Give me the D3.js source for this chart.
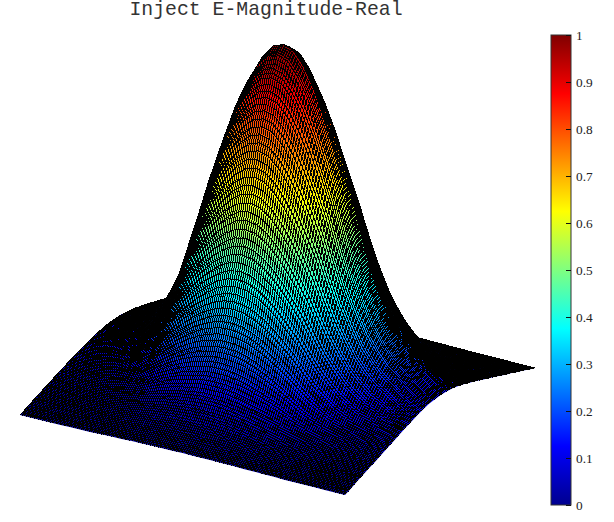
<!DOCTYPE html>
<html><head><meta charset="utf-8">
<script src="https://cdn.jsdelivr.net/npm/d3@7/dist/d3.min.js"></script>
<style>html,body{margin:0;padding:0;background:#fff}svg{display:block}</style>
</head><body><svg id="c" width="614" height="522"></svg>
<script>
const titleText = "Inject E-Magnitude-Real";
const colorbarTicks = [0,0.1,0.2,0.3,0.4,0.5,0.6,0.7,0.8,0.9,1];
const jetStops = [0,0.125,0.375,0.625,0.875,1];
const jetColors = ["#00008f","#0000ff","#00ffff","#ffff00","#ff0000","#800000"];
// Estimated heights, hand-fitted to the silhouette, edge profiles and colour bands; mirrored across the short axis.
// Row = steps from the peak along the long side, column = steps from the peak along the short side.
const heightRowsPeak = [
[1.000,.982,.927,.843,.739,.625,.510,.402,.307,.228,.165,.115,.080,.053,.033,.017,.006],
[.989,.971,.917,.834,.731,.618,.504,.398,.304,.226,.164,.115,.079,.052,.032,.017,.005],
[.952,.934,.883,.803,.704,.596,.486,.384,.294,.219,.159,.111,.077,.051,.032,.017,.005],
[.895,.879,.830,.756,.663,.561,.459,.363,.279,.208,.151,.106,.074,.049,.031,.016,.005],
[.822,.807,.763,.695,.610,.517,.424,.336,.258,.194,.141,.100,.070,.047,.029,.015,.004]
];
const heightRowsLeft = [
[.730,.717,.678,.618,.543,.462,.379,.302,.233,.176,.129,.092,.065,.044,.027,.014,.004],
[.625,.614,.581,.531,.467,.398,.328,.263,.204,.155,.115,.083,.059,.040,.025,.013,.003],
[.505,.496,.470,.431,.380,.326,.270,.218,.171,.132,.099,.072,.053,.036,.023,.012,.003],
[.375,.369,.351,.322,.286,.247,.207,.170,.136,.107,.082,.061,.046,.032,.021,.010,.002],
[.295,.291,.277,.255,.228,.199,.168,.140,.114,.091,.071,.054,.041,.029,.019,.009,.001],
[.225,.222,.212,.197,.178,.157,.135,.114,.094,.077,.062,.048,.037,.027,.018,.009,.001],
[.175,.173,.166,.155,.141,.126,.110,.095,.081,.068,.055,.044,.035,.025,.017,.008,.001],
[.145,.144,.139,.130,.120,.108,.096,.084,.072,.062,.051,.041,.033,.024,.016,.008,0],
[.125,.124,.120,.114,.105,.096,.086,.077,.067,.058,.049,.039,.032,.024,.016,.008,0],
[.110,.109,.106,.101,.094,.087,.079,.071,.063,.055,.047,.038,.031,.023,.016,.007,0],
[.100,.100,.097,.093,.087,.081,.074,.067,.060,.053,.045,.037,.030,.023,.015,.007,0],
[.095,.095,.092,.089,.083,.078,.072,.065,.059,.052,.045,.037,.030,.023,.015,.007,0]
];
const heightRowsRight = [
[.737,.724,.684,.624,.548,.466,.382,.304,.235,.177,.130,.093,.065,.044,.028,.014,.004],
[.646,.635,.600,.548,.482,.411,.338,.270,.210,.159,.118,.085,.060,.041,.026,.013,.003],
[.535,.526,.498,.456,.402,.344,.285,.229,.180,.138,.103,.075,.054,.037,.024,.012,.003],
[.435,.428,.406,.372,.330,.283,.236,.192,.152,.118,.090,.066,.049,.034,.022,.011,.002],
[.355,.349,.332,.306,.272,.235,.198,.162,.130,.103,.079,.059,.044,.031,.020,.010,.002],
[.285,.281,.268,.247,.221,.193,.164,.136,.111,.089,.070,.053,.041,.029,.019,.009,.001],
[.235,.232,.222,.205,.185,.163,.139,.118,.097,.079,.063,.049,.038,.027,.018,.009,.001],
[.195,.193,.185,.172,.156,.138,.120,.103,.086,.071,.058,.045,.036,.026,.017,.008,.001],
[.171,.169,.163,.152,.139,.124,.108,.094,.079,.067,.055,.043,.034,.025,.017,.008,.001],
[.142,.141,.136,.128,.118,.106,.094,.083,.071,.061,.051,.041,.033,.024,.016,.008,0],
[.120,.119,.115,.110,.102,.093,.084,.075,.065,.057,.048,.039,.031,.023,.016,.007,0],
[.105,.104,.102,.097,.091,.084,.077,.069,.061,.054,.046,.038,.031,.023,.016,.007,0]
];

const N = heightRowsPeak[0].length - 1;
const P = heightRowsPeak.length;
const heightAt = (i,j) => { const k=Math.abs(i-N), m=Math.abs(j-N);
  return k<P ? heightRowsPeak[k][m] : (i<N ? heightRowsLeft : heightRowsRight)[k-P][m]; };
const cellsPerSide = 2*N;

// Oblique projection
const sToX = d3.scaleLinear([0,cellsPerSide],[0,325]);
const sToY = d3.scaleLinear([0,cellsPerSide],[0,80]);
const tToX = d3.scaleLinear([0,cellsPerSide],[0,190]);
const tToY = d3.scaleLinear([0,cellsPerSide],[0,-127]);
const zToX = d3.scaleLinear([0,1],[0,6]);
const zToY = d3.scaleLinear([0,1],[0,-347]);
const project = (i,j) => { const z = heightAt(i,j);
  return [20+sToX(i)+tToX(j)+zToX(z), 415+sToY(i)+tToY(j)+zToY(z)]; };
const jet = d3.scaleLinear(jetStops,jetColors).interpolate(d3.interpolateRgb).clamp(true);

const svg = d3.select("#c");
const defs = svg.append("defs");

const cells = [];
for (let i=0;i<cellsPerSide;i++) for (let j=cellsPerSide-1;j>=0;j--) cells.push({i,j});
const hatchPerCell = 5;
const f2 = v => v.toFixed(2);
cells.forEach((c,n)=>{
  const corners = [[c.i,c.j],[c.i+1,c.j],[c.i+1,c.j+1],[c.i,c.j+1]].map(([a,b])=>({p:project(a,b),z:heightAt(a,b)}));
  c.corners = corners;
  const sorted = corners.slice().sort((a,b)=>a.z-b.z);
  const lo = sorted[0], hi = sorted[3];
  c.id = "g"+n;
  const g = defs.append("linearGradient").attr("id",c.id).attr("gradientUnits","userSpaceOnUse")
    .attr("x1",f2(lo.p[0])).attr("y1",f2(lo.p[1])).attr("x2",f2(hi.p[0]+0.01)).attr("y2",f2(hi.p[1]));
  g.append("stop").attr("offset",0).attr("stop-color",jet(lo.z));
  g.append("stop").attr("offset",.5).attr("stop-color",jet((lo.z+hi.z)/2));
  g.append("stop").attr("offset",1).attr("stop-color",jet(hi.z));
  const [A,B,C,D] = corners.map(d=>d.p);
  const mix=(P,Q,k)=>[P[0]+(Q[0]-P[0])*k,P[1]+(Q[1]-P[1])*k];
  let h="";
  for(let k=0;k<hatchPerCell;k++){ const f=k/hatchPerCell, f1=(k+1)/hatchPerCell;
    const a=mix(A,B,f),b=mix(D,C,f),e=mix(A,D,f1),o=mix(B,C,f1);
    h+=`M${f2(a[0])},${f2(a[1])}L${f2(b[0])},${f2(b[1])}M${f2(e[0])},${f2(e[1])}L${f2(o[0])},${f2(o[1])}`;
  }
  c.hatch=h;
});

const surface = svg.append("g").attr("class","surface");
const cg = surface.selectAll("g").data(cells).join("g");
cg.append("path")
  .attr("d",c=>"M"+c.corners.map(d=>f2(d.p[0])+","+f2(d.p[1])).join("L")+"Z")
  .attr("fill",c=>`url(#${c.id})`);
cg.append("path").attr("d",c=>c.hatch).attr("fill","none").attr("stroke","#000").attr("stroke-width",1).attr("shape-rendering","crispEdges");

// Title
svg.append("text").attr("x",266).attr("y",15).attr("text-anchor","middle")
  .attr("font-family","'Liberation Mono',monospace").attr("font-size",19.8)
  .attr("fill","#333").text(titleText);

// Colour bar
const barScale = d3.scaleLinear([0,1],[505,35]);
const barId="jetBar";
const lg=defs.append("linearGradient").attr("id",barId).attr("x1",0).attr("y1",1).attr("x2",0).attr("y2",0);
jetStops.forEach((s,k)=>lg.append("stop").attr("offset",s).attr("stop-color",jetColors[k]));
svg.append("rect").attr("x",551).attr("y",barScale(1)).attr("width",20).attr("height",barScale(0)-barScale(1))
  .attr("fill",`url(#${barId})`).attr("stroke","#333").attr("stroke-width",1);
const axis = d3.axisRight(barScale).tickValues(colorbarTicks).tickFormat(d3.format("~g")).tickSize(-5).tickPadding(10);
const ax = svg.append("g").attr("transform","translate(571,0)").call(axis);
ax.select(".domain").remove();
ax.selectAll("line").attr("stroke","#111");
ax.selectAll("text").attr("x",5).attr("text-anchor","start")
  .attr("font-family","'Liberation Serif',serif").attr("font-size",13.3).attr("fill","#222");
</script></body></html>
